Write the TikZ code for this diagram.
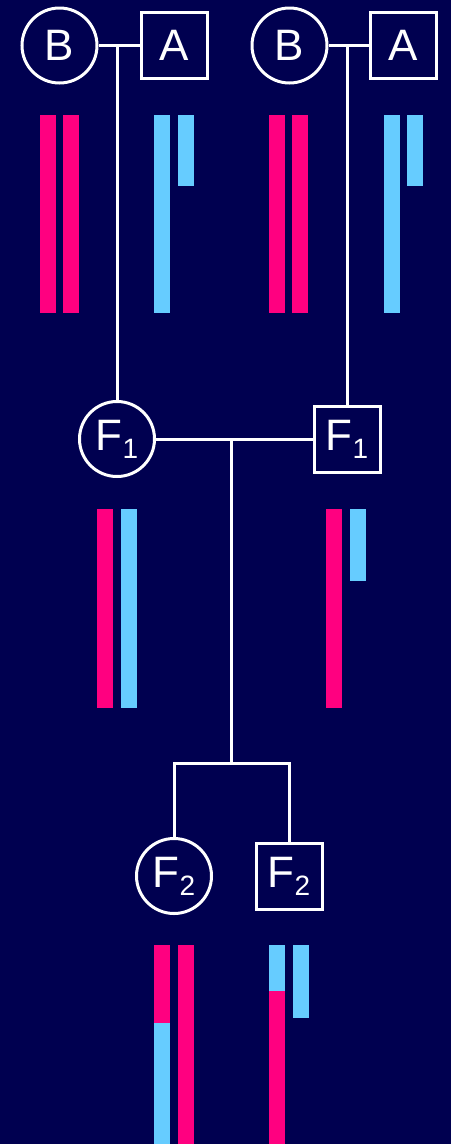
\documentclass[tikz,border=0pt]{standalone}
\usepackage{fontspec}
\setmainfont{Liberation Sans}
\definecolor{navy}{RGB}{0,0,80}
\definecolor{pinkc}{RGB}{255,0,128}
\definecolor{bluec}{RGB}{102,204,255}
\newcommand{\Fsub}[1]{F\raisebox{-8pt}{\fontsize{28}{28}\selectfont #1}}
\begin{document}
\begin{tikzpicture}[x=1pt,y=-1pt,
  line width=3pt,
  female/.style={circle,draw=white,line width=3pt,minimum size=75pt,inner sep=0pt,text=white,font=\fontsize{44}{44}\selectfont},
  male/.style={rectangle,draw=white,line width=3pt,minimum size=66pt,inner sep=0pt,text=white,font=\fontsize{44}{44}\selectfont},
  link/.style={draw=white,line width=3pt},
  pb/.style={fill=pinkc},
  bb/.style={fill=bluec}]
\fill[navy] (0,0) rectangle (451,1144);
\useasboundingbox (0,0) rectangle (451,1144);
% nodes
\node[female] (B1) at (59.5,45.5) {B};
\node[male] (A1) at (174.5,45.5) {A};
\node[female] (B2) at (289.5,45.5) {B};
\node[male] (A2) at (403.5,45.5) {A};
\node[female] (F1c) at (117,439) {\Fsub{1}};
\node[male] (F1s) at (347,439) {\Fsub{1}};
\node[female] (F2c) at (174,876) {\Fsub{2}};
\node[male] (F2s) at (289,876.5) {\Fsub{2}};
\coordinate (m1) at (117,45.5);
\coordinate (m2) at (347,45.5);
\coordinate (m3) at (231,439);
\coordinate (m4) at (231,763);
% connectors
\draw[link] (B1.east) -- (A1.west);
\draw[link] (m1) -- (F1c.north);
\draw[link] (B2.east) -- (A2.west);
\draw[link] (m2) -- (F1s.north);
\draw[link] (F1c.east) -- (F1s.west);
\draw[link] (m3) -- (m4);
\draw[link] (F2c.north) |- (m4) -| (F2s.north);
% chromosome bars, P generation
\fill[pb] (40,115) rectangle (56,313);
\fill[pb] (63,115) rectangle (79,313);
\fill[bb] (154,115) rectangle (170,313);
\fill[bb] (178,115) rectangle (194,186);
\fill[pb] (269,115) rectangle (285,313);
\fill[pb] (292,115) rectangle (308,313);
\fill[bb] (384,115) rectangle (400,313);
\fill[bb] (407,115) rectangle (423,186);
% F1 bars
\fill[pb] (97,509) rectangle (113,708);
\fill[bb] (121,509) rectangle (137,708);
\fill[pb] (326,509) rectangle (342,708);
\fill[bb] (350,509) rectangle (366,581);
% F2 bars
\fill[pb] (154,945) rectangle (170,1023);
\fill[bb] (154,1023) rectangle (170,1144);
\fill[pb] (178,945) rectangle (194,1144);
\fill[bb] (269,945) rectangle (285,991);
\fill[pb] (269,991) rectangle (285,1144);
\fill[bb] (293,945) rectangle (309,1018);
\end{tikzpicture}
\end{document}
